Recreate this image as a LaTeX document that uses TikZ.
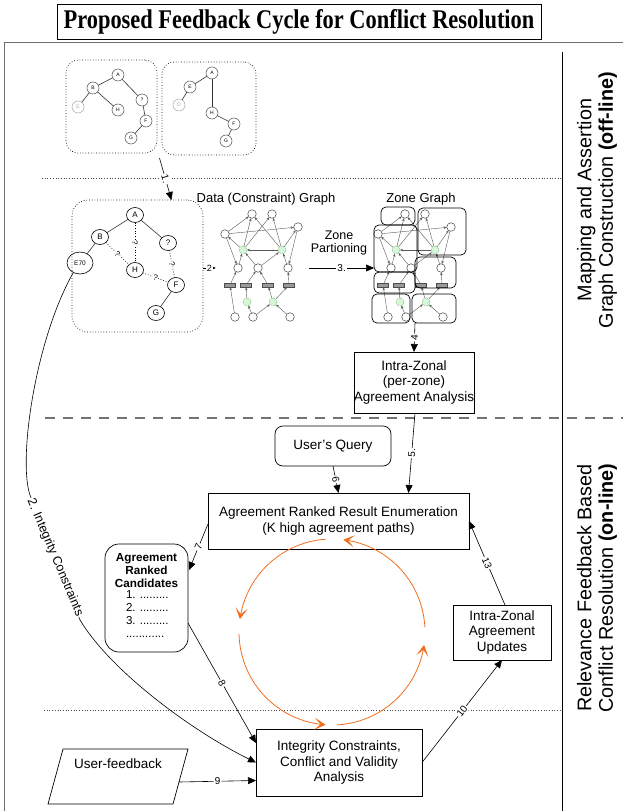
\documentclass[tikz,border=0pt]{standalone}
\usepackage{fontspec}
\setmainfont{Liberation Sans}
\newfontfamily\ttlfont{Liberation Serif}
\usepackage{graphicx}
\usetikzlibrary{arrows.meta,calc,shapes.geometric}
\definecolor{cycorange}{RGB}{240,110,30}
\definecolor{framegray}{RGB}{110,110,110}
\definecolor{greennode}{RGB}{215,245,215}

\newcommand{\netgraph}{%
 \node[gc] (t1) at (252,214) {};
 \node[gc] (t2) at (272,214) {};
 \node[gc] (l2) at (225,234) {};
 \node[gc] (r2) at (298,227) {};
 \node[gn] (g1) at (243,250) {};
 \node[gn] (g2) at (282,250) {};
 \node[gc] (m1) at (238,268) {};
 \node[gc] (m2) at (258,268) {};
 \node[gc] (m3) at (288,268) {};
 \node[gr] (b1) at (230,285) {};
 \node[gr] (b2) at (246,285) {};
 \node[gr] (b3) at (268,285) {};
 \node[gr] (b4) at (289,285) {};
 \node[gn] (g3) at (247,302) {};
 \node[gn] (g4) at (273,302) {};
 \node[gc] (c1) at (235,317) {};
 \node[gc] (c2) at (253,317) {};
 \node[gc] (c3) at (290,317) {};
 \foreach \a/\b in {g1/l2,g1/t1,g1/t2,g2/t2,g2/r2,g2/t1,l2/t1,g2/g1,m1/g1,m2/g1,m2/g2,m3/g2,l2/m1,r2/m3,b1/m1,b2/m2,b3/m2,b4/m3,c1/b1,g3/b2,c2/g3,g4/b3,g4/b4,c2/g4,c3/g4,l2/r2}
   {\draw[ge] (\a) -- (\b);}
}

\begin{document}
\begin{tikzpicture}[x=1pt,y=-1pt,
 every node/.style={inner sep=0pt,outer sep=0pt},
 mainfont/.style={font=\fontsize{13.5}{15.5}\selectfont},
 box/.style={draw,line width=0.7pt,align=center,mainfont},
 conn/.style={draw,line width=0.6pt,-{Triangle[length=8pt,width=7pt]}},
 lab/.style={fill=white,inner sep=1pt,font=\fontsize{10}{10}\selectfont,sloped},
 cyc/.style={draw=cycorange,line width=0.8pt,-{Stealth[length=11pt,width=12pt,inset=6pt]}},
 tn/.style={circle,draw=black!70,line width=0.5pt,minimum size=12pt,font=\fontsize{5}{5}\selectfont},
 tfaint/.style={tn,draw=black!35,text=black!35},
 te/.style={draw=black!80,line width=0.6pt},
 bn/.style={ellipse,draw,line width=0.6pt,minimum width=17pt,minimum height=15pt,font=\fontsize{8}{8}\selectfont},
 bq/.style={draw,dotted,line width=0.7pt},
 qlab/.style={fill=white,inner sep=0.5pt,font=\fontsize{8}{8}\selectfont,sloped},
 dbox/.style={draw,dotted,line width=0.7pt,rounded corners=12pt},
 gc/.style={circle,draw=black!75,line width=0.5pt,fill=white,minimum size=8.5pt},
 gn/.style={circle,draw=green!45!black,densely dotted,fill=greennode,minimum size=8pt},
 gr/.style={rectangle,draw=black!70,fill=black!40,minimum width=11pt,minimum height=4.5pt},
 ge/.style={draw=black!65,line width=0.4pt,-{Stealth[length=3pt,width=2.5pt]}},
 zbox/.style={draw,line width=0.7pt,rounded corners=5pt},
 dotsep/.style={draw=black!70,line width=0.7pt,dotted},
 dashsep/.style={draw=black!55,line width=1.3pt,dash pattern=on 10pt off 8pt},
 sidelab/.style={rotate=90,align=center,font=\fontsize{19.8}{21.5}\selectfont}
]
\useasboundingbox (0,0) rectangle (623,811);

% title and frame
\node[draw,line width=0.9pt,minimum width=484pt,minimum height=35pt] (title) at (299,21.5)
  {\ttlfont\bfseries\fontsize{27}{30}\selectfont\scalebox{0.83}[1]{Proposed Feedback Cycle for Conflict Resolution}};
\draw[framegray,line width=1.8pt] (4.5,815) -- (4.5,42.5) -- (630,42.5);
\draw[line width=0.7pt] (562,52) -- (562,815);
\draw[dotsep] (42,178) -- (562,178);
\draw[dashsep] (45,418) -- (630,418);
\draw[dotsep] (44,710) -- (562,710);

% side labels
\node[sidelab] (lab1) at (597,200) {Mapping and Assertion\\Graph Construction \textbf{(off-line)}};
\node[sidelab] (lab2) at (597,588) {Relevance Feedback Based\\Conflict Resolution \textbf{(on-line)}};

% small source trees
\node[dbox,minimum width=91pt,minimum height=93pt] (tb1) at (111.5,106.5) {};
\node[dbox,minimum width=94pt,minimum height=93pt] (tb2) at (209,108.5) {};
\node[tn] (pa) at (118,75) {A};
\node[tn] (pb) at (93,88) {B};
\node[tn] (pq) at (142,100) {?};
\node[tfaint] (pe) at (78,107) {E};
\node[tn] (ph) at (118,110) {H};
\node[tn] (pf) at (146,121) {F};
\node[tn] (pg) at (131,138) {G};
\draw[te] (pa) -- (pb); \draw[te] (pa) -- (pq); \draw[te] (pb) -- (pe);
\draw[te] (pb) -- (ph); \draw[te] (pq) -- (pf); \draw[te] (pf) -- (pg);
\node[tn] (qa) at (212,73) {A};
\node[tn] (qe) at (190,87) {E};
\node[tfaint] (qd) at (179,105) {D};
\node[tn] (qh) at (212,113) {H};
\node[tn] (qf) at (234,124) {F};
\node[tn] (qg) at (226,141) {G};
\draw[te] (qa) -- (qe); \draw[te] (qe) -- (qd); \draw[te] (qa) -- (qh);
\draw[te] (qh) -- (qf); \draw[te] (qf) -- (qg);

% merged tree
\node[dbox,minimum width=131pt,minimum height=132pt,rounded corners=16pt] (big) at (137.5,266) {};
\node[bn] (ma) at (135,215) {A};
\node[bn] (mb) at (100,237) {B};
\node[bn] (mq) at (168,243) {?};
\node[bn,minimum width=26pt,minimum height=22pt,font=\fontsize{6.5}{6.5}\selectfont] (me) at (80,263) {E70};
\node[bn] (mh) at (135,270) {H};
\node[bn] (mf) at (176,285) {F};
\node[bn] (mg) at (156,313) {G};
\draw[te] (ma) -- (mb); \draw[te] (ma) -- (mq); \draw[te] (mb) -- (me); \draw[te] (mf) -- (mg);
\draw[bq] (ma) -- node[qlab]{?} (mh);
\draw[bq] (mb) -- node[qlab]{?} (mh);
\draw[bq] (mq) -- node[qlab]{?} (mf);
\draw[bq] (mh) -- node[qlab]{?} (mf);

\draw[conn] ($(tb1.south east)!0.5!(tb2.south west)+(0,4)$) -- node[lab]{1.} ($(big.north)+(34,0)$);

% data graph
\node[font=\fontsize{13}{13}\selectfont] (dgl) at (266,199) {Data (Constraint) Graph};
\begin{scope}[name prefix=d-]
\netgraph
\end{scope}
\draw[conn] (big.east |- d-m1) -- node[lab,font=\fontsize{9}{9}\selectfont]{2} ($(d-l2.west |- d-m1)+(-5,0)$);

% zone graph
\node[font=\fontsize{13}{13}\selectfont] (zgl) at (421,199) {Zone Graph};
\begin{scope}[shift={(153,0)},name prefix=z-]
\netgraph
\end{scope}
\node[zbox,minimum width=34pt,minimum height=18pt] (zb1) at (398,216) {};
\node[zbox,minimum width=48pt,minimum height=47pt] (zb2) at (442,231.5) {};
\node[zbox,minimum width=43pt,minimum height=47pt] (zb3) at (395.5,248.5) {};
\node[zbox,minimum width=41pt,minimum height=31pt] (zb4) at (435.5,272.5) {};
\node[zbox,minimum width=41pt,minimum height=21pt] (zb5) at (394.5,282.5) {};
\node[zbox,minimum width=38pt,minimum height=29pt] (zb6) at (391,308.5) {};
\node[zbox,minimum width=44pt,minimum height=29pt] (zb7) at (434,308.5) {};

\node[align=center,font=\fontsize{12.5}{13}\selectfont] (zpl) at (339,242.5) {Zone\\Partioning};
\draw[conn] ($(d-r2.east |- d-m1)+(7,0)$) -- node[lab]{3.} (zb3.west |- d-m1);

% boxes
\node[box,minimum width=114pt,minimum height=61pt] (intra) at (414,382.5) {Intra-Zonal\\(per-zone)\\Agreement Analysis};
\node[box,rounded corners=8pt,minimum width=116pt,minimum height=40pt] (uq) at (333,446) {User's Query};
\node[box,minimum width=261pt,minimum height=56pt] (agr) at (338.5,521) {Agreement Ranked Result Enumeration\\(K high agreement paths)};
\node[box,minimum width=98pt,minimum height=55pt] (upd) at (502,632.5) {Intra-Zonal\\Agreement\\Updates};
\node[box,rounded corners=14pt,minimum width=83pt,minimum height=108pt] (cand) at (146.5,598) {};
\node[align=center,font=\bfseries\fontsize{11.7}{13}\selectfont] (candh) at (146.5,571) {Agreement\\Ranked\\Candidates};
\node[align=left,anchor=north west,font=\fontsize{11.5}{12.7}\selectfont] (candl) at (126,591) {1. .........\\2. .........\\3. .........\\............};
\node[box,minimum width=166pt,minimum height=67pt] (int) at (339,762.5) {Integrity Constraints,\\Conflict and Validity\\Analysis};
\draw[line width=0.7pt] (63,749) coordinate (uf1) -- (188,749) coordinate (uf2) -- (173,804) coordinate (uf3) -- (48,804) coordinate (uf4) -- cycle;
\node[mainfont] (uf) at (118,764) {User-feedback};

% connectors
\draw[conn] ($(zb7.south west)+(3,0)$) -- node[lab]{4} (intra.north);
\draw[conn] ($(intra.south)+(1,0)$) -- node[lab]{5.} ($(agr.north)+(70,0)$);
\draw[conn] (uq.south) -- node[lab]{6} (agr.north);
\draw[conn] ($(agr.west)+(0,3)$) -- node[lab]{7} ($(cand.east)+(1,-28)$);
\draw[conn] ($(cand.east)+(0,25)$) -- node[lab]{8} ($(int.west)+(0,-19.5)$);
\draw[conn] ($(uf2)!0.6!(uf3)$) -- node[lab]{9} ($(int.west)+(0,18)$);
\draw[conn] (int.east) -- node[lab]{10} (upd.south);
\draw[conn] ($(upd.north)+(3,0)$) -- node[lab]{13} (agr.east);
\draw[line width=0.6pt] (me.235) .. controls (35,340) and (18,460) .. (30,495) coordinate (ic1)
   -- (80,620) coordinate (ic2);
\draw[conn] (ic2) .. controls (110,670) and (190,730) .. (int.west);
\node[fill=white,inner sep=1pt,rotate=-67,font=\fontsize{12.5}{12.5}\selectfont] (icl) at ($(ic1)!0.5!(ic2)$) {2. Integrity Constraints};

% feedback cycle
\draw[cyc] plot[domain=3:83,samples=40] ({332+93*cos(\x)},{632-93*sin(\x)});
\draw[cyc] plot[domain=94:172,samples=40] ({332+93*cos(\x)},{632-93*sin(\x)});
\draw[cyc] plot[domain=181:266,samples=40] ({332+93*cos(\x)},{632-93*sin(\x)});
\draw[cyc] plot[domain=273:352,samples=40] ({332+93*cos(\x)},{632-93*sin(\x)});
\end{tikzpicture}
\end{document}
